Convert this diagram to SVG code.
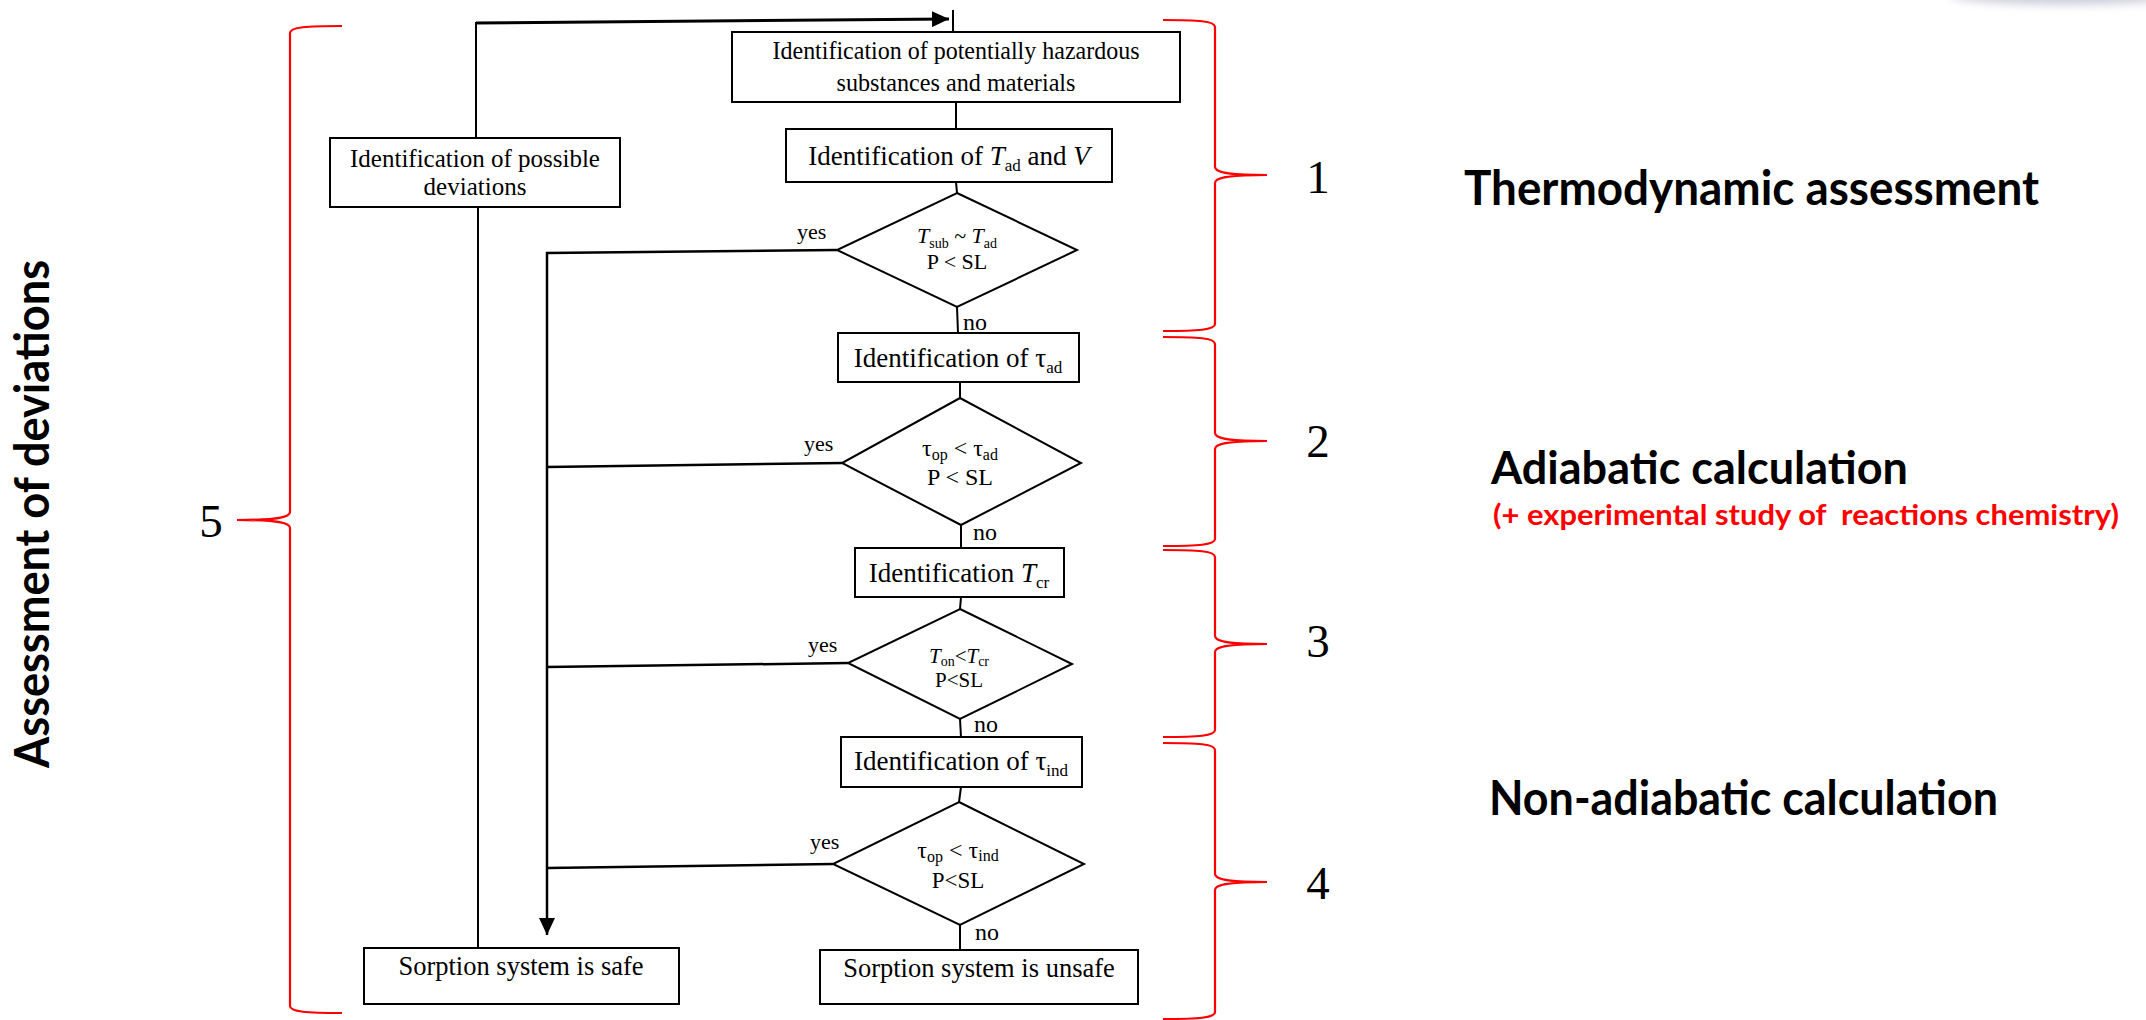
<svg xmlns="http://www.w3.org/2000/svg" width="2146" height="1020" viewBox="0 0 2146 1020">
<style>
.box{fill:#fff;stroke:#000;stroke-width:2}
.ln{fill:none;stroke:#000;stroke-width:2}
.br{fill:none;stroke:#ff0000;stroke-width:2.2}
.t{font-family:"Liberation Serif","Times New Roman",serif;fill:#000}
.s{font-family:Lato,"Liberation Sans",Arial,sans-serif;fill:#000;font-weight:bold}
.i{font-style:italic}
</style>
<defs>
<marker id="ah" markerUnits="userSpaceOnUse" markerWidth="18" markerHeight="16" refX="17" refY="8" orient="auto">
<path d="M0,0 L17,8 L0,16 Z" fill="#000"/>
</marker>
<filter id="blur" x="-50%" y="-200%" width="200%" height="500%"><feGaussianBlur stdDeviation="4"/></filter>
</defs>
<rect width="2146" height="1020" fill="#fff"/>
<ellipse cx="2065" cy="-5" rx="115" ry="10" fill="#a8a8c0" opacity="0.55" filter="url(#blur)"/>

<g id="connectors">
<line class="ln" x1="953" y1="10" x2="953" y2="32"/>
<line class="ln" x1="956" y1="102" x2="956" y2="129"/>
<line class="ln" x1="956" y1="182" x2="957" y2="193"/>
<line class="ln" x1="957" y1="307" x2="958" y2="333"/>
<line class="ln" x1="960" y1="382" x2="960" y2="398"/>
<line class="ln" x1="961" y1="525" x2="961" y2="548"/>
<line class="ln" x1="961" y1="597" x2="960" y2="609"/>
<line class="ln" x1="960" y1="719" x2="961" y2="737"/>
<line class="ln" x1="961" y1="787" x2="959" y2="802"/>
<line class="ln" x1="960" y1="925" x2="960" y2="950"/>
<polyline class="ln" points="837,250 547,253 547,935" style="stroke-width:2.5" marker-end="url(#ah)"/>
<line class="ln" x1="842" y1="463" x2="547" y2="467" style="stroke-width:2.5"/>
<line class="ln" x1="848" y1="663" x2="547" y2="667" style="stroke-width:2.5"/>
<line class="ln" x1="833" y1="864" x2="547" y2="868" style="stroke-width:2.5"/>
<line class="ln" x1="476" y1="138" x2="476" y2="22"/>
<line class="ln" x1="476" y1="23" x2="949" y2="19" style="stroke-width:3" marker-end="url(#ah)"/>
<line class="ln" x1="478" y1="207" x2="478" y2="948"/>
<text class="t" x="797" y="239" font-size="22">yes</text>
<text class="t" x="804" y="451" font-size="22">yes</text>
<text class="t" x="808" y="652" font-size="22">yes</text>
<text class="t" x="810" y="849" font-size="22">yes</text>
<text class="t" x="963" y="330" font-size="24">no</text>
<text class="t" x="973" y="540" font-size="24">no</text>
<text class="t" x="974" y="732" font-size="24">no</text>
<text class="t" x="975" y="940" font-size="24">no</text>
</g>

<g id="n-hazard">
<rect class="box" x="732" y="32" width="448" height="70"/>
<text class="t" x="956" y="59" font-size="26" text-anchor="middle" textLength="367" lengthAdjust="spacingAndGlyphs">Identification of potentially hazardous</text>
<text class="t" x="956" y="91" font-size="26" text-anchor="middle" textLength="239" lengthAdjust="spacingAndGlyphs">substances and materials</text>
</g>
<g id="n-tad">
<rect class="box" x="786" y="129" width="326" height="53"/>
<text class="t" x="949" y="165" font-size="27" text-anchor="middle">Identification of <tspan class="i">T</tspan><tspan font-size="17" dy="6">ad</tspan><tspan dy="-6"> and </tspan><tspan class="i">V</tspan></text>
</g>
<g id="n-d1">
<polygon class="box" points="957,193 1077,250 957,307 837,250"/>
<text class="t" x="957" y="243" font-size="22" text-anchor="middle"><tspan class="i">T</tspan><tspan font-size="14" dy="5">sub</tspan><tspan dy="-5"> ~ </tspan><tspan class="i">T</tspan><tspan font-size="14" dy="5">ad</tspan></text>
<text class="t" x="957" y="269" font-size="22" text-anchor="middle">P &lt; SL</text>
</g>
<g id="n-tauad">
<rect class="box" x="838" y="333" width="241" height="49"/>
<text class="t" x="958" y="367" font-size="27" text-anchor="middle">Identification of τ<tspan font-size="17" dy="6">ad</tspan></text>
</g>
<g id="n-d2">
<polygon class="box" points="960,398 1081,463 961,525 842,463"/>
<text class="t" x="960" y="456" font-size="24" text-anchor="middle">τ<tspan font-size="16" dy="4">op</tspan><tspan dy="-4"> &lt; τ</tspan><tspan font-size="16" dy="4">ad</tspan></text>
<text class="t" x="960" y="485" font-size="24" text-anchor="middle">P &lt; SL</text>
</g>
<g id="n-tcr">
<rect class="box" x="855" y="548" width="209" height="49"/>
<text class="t" x="959" y="582" font-size="27" text-anchor="middle">Identification <tspan class="i">T</tspan><tspan font-size="17" dy="6">cr</tspan></text>
</g>
<g id="n-d3">
<polygon class="box" points="960,609 1072,664 960,719 848,663"/>
<text class="t" x="959" y="663" font-size="21" text-anchor="middle"><tspan class="i">T</tspan><tspan font-size="14" dy="3">on</tspan><tspan dy="-3">&lt;</tspan><tspan class="i">T</tspan><tspan font-size="14" dy="3">cr</tspan></text>
<text class="t" x="959" y="687" font-size="21" text-anchor="middle">P&lt;SL</text>
</g>
<g id="n-tauind">
<rect class="box" x="841" y="737" width="241" height="50"/>
<text class="t" x="961" y="770" font-size="27" text-anchor="middle">Identification of τ<tspan font-size="17" dy="6">ind</tspan></text>
</g>
<g id="n-d4">
<polygon class="box" points="959,802 1084,864 960,925 833,864"/>
<text class="t" x="958" y="858" font-size="24" text-anchor="middle">τ<tspan font-size="16" dy="4">op</tspan><tspan dy="-4"> &lt; τ</tspan><tspan font-size="16" dy="3">ind</tspan></text>
<text class="t" x="958" y="888" font-size="23" text-anchor="middle">P&lt;SL</text>
</g>
<g id="n-unsafe">
<rect class="box" x="820" y="950" width="318" height="54"/>
<text class="t" x="979" y="977" font-size="26.5" text-anchor="middle">Sorption system is unsafe</text>
</g>
<g id="n-deviations">
<rect class="box" x="330" y="138" width="290" height="69"/>
<text class="t" x="475" y="167" font-size="25" text-anchor="middle">Identification of possible</text>
<text class="t" x="475" y="195" font-size="25" text-anchor="middle">deviations</text>
</g>
<g id="n-safe">
<rect class="box" x="364" y="948" width="315" height="56"/>
<text class="t" x="521" y="975" font-size="26.5" text-anchor="middle">Sorption system is safe</text>
</g>

<g id="brackets">
<path class="br" d="M1163,20 C1198,20 1215,21 1215,27 L1215,167 C1215,172 1225,175 1267,175 C1225,175 1215,178 1215,183 L1215,324 C1215,330 1198,331 1163,331"/>
<path class="br" d="M1163,337 C1198,337 1215,338 1215,344 L1215,433 C1215,438 1225,441 1267,441 C1225,441 1215,444 1215,449 L1215,539 C1215,545 1198,546 1163,546"/>
<path class="br" d="M1163,550 C1198,550 1215,551 1215,557 L1215,636 C1215,641 1225,644 1267,644 C1225,644 1215,647 1215,652 L1215,730 C1215,736 1198,737 1163,737"/>
<path class="br" d="M1163,743 C1198,743 1215,744 1215,750 L1215,874 C1215,879 1225,882 1267,882 C1225,882 1215,885 1215,890 L1215,1012 C1215,1018 1198,1019 1163,1019"/>
<path class="br" d="M342,26 C307,26 290,27 290,33 L290,512 C290,517 280,520 237,520 C280,520 290,523 290,528 L290,1006 C290,1012 307,1013 342,1013"/>
</g>

<g id="labels">
<text class="t" x="1318" y="193" font-size="47" text-anchor="middle">1</text>
<text class="t" x="1318" y="457" font-size="47" text-anchor="middle">2</text>
<text class="t" x="1318" y="657" font-size="47" text-anchor="middle">3</text>
<text class="t" x="1318" y="899" font-size="47" text-anchor="middle">4</text>
<text class="t" x="211" y="537" font-size="47" text-anchor="middle">5</text>
<text class="s" transform="translate(49,514) rotate(-90)" font-size="48" text-anchor="middle" textLength="508" lengthAdjust="spacingAndGlyphs">Assessment of deviations</text>
<text class="s" x="1464" y="205" font-size="47" textLength="575" lengthAdjust="spacingAndGlyphs">Thermodynamic assessment</text>
<text class="s" x="1491" y="484" font-size="45" textLength="417" lengthAdjust="spacingAndGlyphs">Adiabatic calculation</text>
<text class="s" x="1493" y="525" font-size="28" fill="#ff0000" style="fill:#ff0000" xml:space="preserve" textLength="626" lengthAdjust="spacingAndGlyphs">(+ experimental study of  reactions chemistry)</text>
<text class="s" x="1489" y="815" font-size="47" textLength="509" lengthAdjust="spacingAndGlyphs">Non-adiabatic calculation</text>
</g>
</svg>
